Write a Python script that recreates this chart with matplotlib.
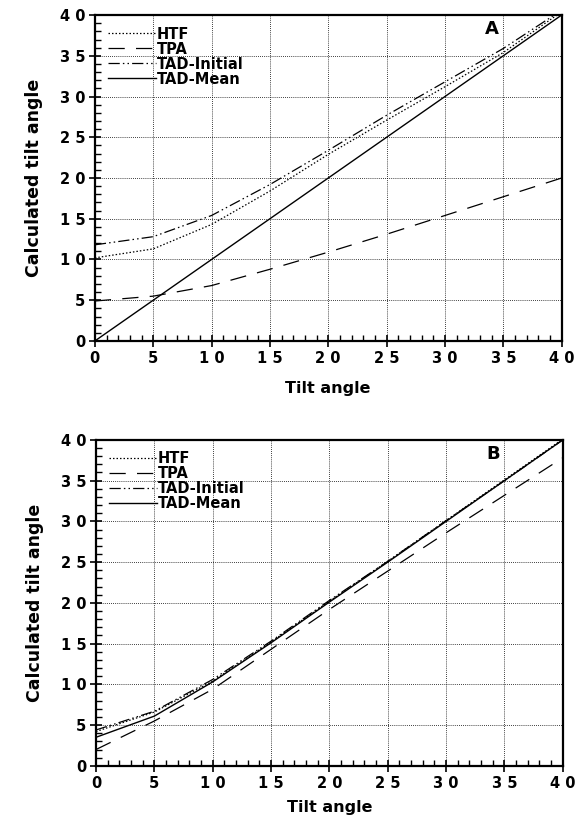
import matplotlib
matplotlib.use('Agg')
import matplotlib.pyplot as plt
from matplotlib.ticker import MultipleLocator

plt.rcParams['font.family'] = ['DejaVu Sans']
plt.rcParams['font.weight'] = 'bold'

# tilt angles (x) shared by both panels
tilt = [0, 5, 10, 15, 20, 25, 30, 35, 40]
tick_vals = [0, 5, 10, 15, 20, 25, 30, 35, 40]
tick_labels = ['0', '5', '1 0', '1 5', '2 0', '2 5', '3 0', '3 5', '4 0']

# panel A
a_htf = [10.2, 11.3, 14.3, 18.4, 22.9, 27.1, 31.2, 35.4, 40.4]
a_tpa = [4.9, 5.5, 6.8, 8.8, 10.9, 13.1, 15.4, 17.7, 20.0]
a_tad_init = [11.8, 12.8, 15.4, 19.2, 23.4, 27.7, 31.8, 35.9, 40.6]
a_tad_mean = [0, 5, 10, 15, 20, 25, 30, 35, 40]

# panel B
b_htf = [4.2, 6.6, 10.4, 15.2, 20.2, 25.1, 30.1, 35.1, 40.1]
b_tpa = [2.0, 5.5, 9.4, 14.3, 19.2, 23.9, 28.6, 33.2, 37.8]
b_tad_init = [4.4, 6.7, 10.6, 15.3, 20.3, 25.1, 30.1, 35.0, 40.0]
b_tad_mean = [3.5, 6.1, 10.3, 15.1, 20.1, 25.0, 30.0, 35.0, 40.0]

fig = plt.figure(figsize=(5.82, 8.23), dpi=100)
ax_a = fig.add_axes([0.163, 0.5857, 0.802, 0.396])
ax_b = fig.add_axes([0.165, 0.0695, 0.802, 0.396])


def draw_panel(ax, htf, tpa, tad_init, tad_mean, letter, xpad):
    ax.plot(tilt, htf, color='black', lw=0.9, linestyle=(0, (1.2, 1.6)), label='HTF')
    ax.plot(tilt, tpa, color='black', lw=0.9, linestyle=(0, (13, 9)), label='TPA')
    ax.plot(tilt, tad_init, color='black', lw=0.9,
            linestyle=(0, (9, 2.5, 1.2, 2.5, 1.2, 2.5)), label='TAD-Initial')
    ax.plot(tilt, tad_mean, color='black', lw=1.0, linestyle='-', label='TAD-Mean')

    ax.set_xlim(0, 40)
    ax.set_ylim(0, 40)
    ax.set_xticks(tick_vals)
    ax.set_xticklabels(tick_labels)
    ax.set_yticks(tick_vals)
    ax.set_yticklabels(tick_labels)
    ax.xaxis.set_minor_locator(MultipleLocator(1))
    ax.yaxis.set_minor_locator(MultipleLocator(1))
    ax.tick_params(which='major', direction='inout', length=8, width=1.2,
                   labelsize=10.5, pad=3)
    ax.tick_params(which='minor', direction='in', length=4, width=1.0)
    for lab in ax.get_xticklabels() + ax.get_yticklabels():
        lab.set_fontweight('bold')
    ax.grid(True, which='major', color='black', lw=0.6, linestyle=(0, (1, 1.5)))
    for s in ax.spines.values():
        s.set_linewidth(1.6)

    ax.set_xlabel('Tilt angle', fontsize=11.5, fontweight='bold', labelpad=xpad)
    ax.set_ylabel('Calculated tilt angle', fontsize=12.5, fontweight='bold', labelpad=12)
    ax.text(0.865, 0.985, letter, transform=ax.transAxes, fontsize=13,
            fontweight='bold', ha='right', va='top')
    leg = ax.legend(loc='upper left', bbox_to_anchor=(0.0, 1.005), frameon=False,
                    fontsize=10.5, handlelength=3.3, handletextpad=0.05,
                    labelspacing=0.0, borderpad=0.4, borderaxespad=0.5)
    for t in leg.get_texts():
        t.set_fontweight('bold')


draw_panel(ax_a, a_htf, a_tpa, a_tad_init, a_tad_mean, 'A', 11)
draw_panel(ax_b, b_htf, b_tpa, b_tad_init, b_tad_mean, 'B', 7)

fig.savefig('out.png', dpi=100)
